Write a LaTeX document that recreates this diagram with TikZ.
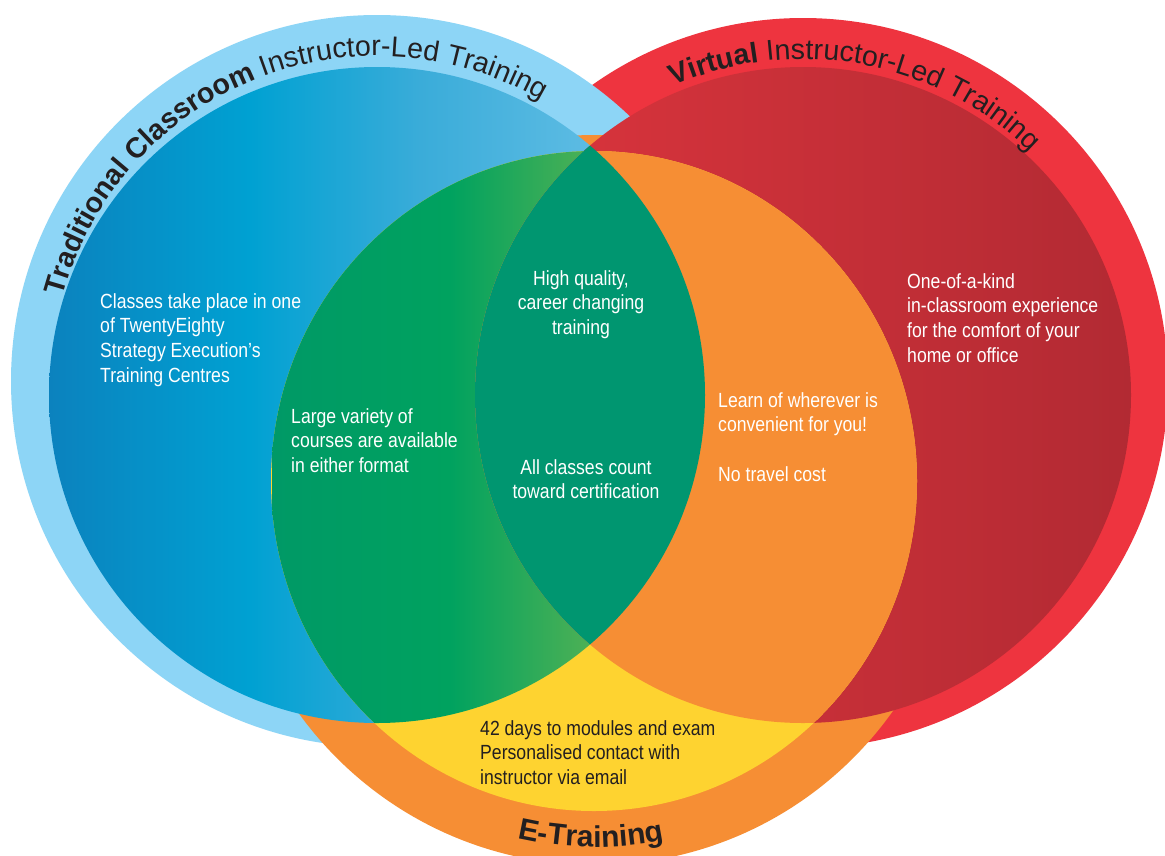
\documentclass[tikz,border=0pt]{standalone}
\usepackage{fontspec}
\setmainfont{Liberation Sans}
\newfontfamily\condfont[FakeStretch=0.86]{Liberation Sans}
\usetikzlibrary{decorations.text}
\definecolor{ringblue}{HTML}{8DD5F6}
\definecolor{ringred}{HTML}{EE343F}
\definecolor{ringorange}{HTML}{F68E34}
\definecolor{vennyellow}{HTML}{FED330}
\definecolor{venndkgreen}{HTML}{009670}
\definecolor{titlecol}{HTML}{231F20}
\definecolor{redL}{HTML}{DD353D}
\definecolor{redR}{HTML}{B22A33}
\definecolor{blueA}{HTML}{0B82BE}
\definecolor{blueB}{HTML}{00A1D2}
\definecolor{blueC}{HTML}{3AACD9}
\definecolor{blueD}{HTML}{74C6EA}
\definecolor{greenA}{HTML}{009966}
\definecolor{greenB}{HTML}{00A25F}
\definecolor{greenC}{HTML}{55B254}
\pgfdeclarehorizontalshading{blueshade}{100bp}{color(0bp)=(blueA); color(25bp)=(blueA); color(40.3bp)=(blueB); color(53.3bp)=(blueC); color(75bp)=(blueD); color(100bp)=(blueD)}
\pgfdeclarehorizontalshading{greenshade}{100bp}{color(0bp)=(greenA); color(25bp)=(greenA); color(51.7bp)=(greenB); color(75bp)=(greenC); color(100bp)=(greenC)}
\newcommand\bodyfont{\condfont\fontsize{20.5}{24.7}\selectfont}
\newcommand\titlefont{\fontsize{28.6}{32}\selectfont}
\newcommand\etfont{\fontsize{30}{34}\selectfont\bfseries}
\newcommand\leftlines[1]{\vtop{\halign{##\hfil\cr#1\crcr}}}
\newcommand\centerlines[1]{\vtop{\halign{\hfil##\hfil\cr#1\crcr}}}
\tikzset{
  bodytxt/.style={inner sep=0pt, text=white, font=\bodyfont},
  darktxt/.style={inner sep=0pt, text=titlecol, font=\bodyfont},
}
\begin{document}
\begin{tikzpicture}[x=1pt,y=1pt]
\useasboundingbox (0,-855) rectangle (1165,0);
\fill[white] (0,-855) rectangle (1165,0);
\clip (0,-855) rectangle (1165,0);
% centres
\coordinate (cAo) at (377,-381);
\coordinate (cBo) at (803,-383);
\coordinate (cCo) at (595,-500);
\coordinate (cA) at (377,-395);
\coordinate (cB) at (803,-395);
\coordinate (cC) at (594,-481);
% outer rings
\fill[ringred] (cBo) circle[radius=365];
\fill[ringblue] (cAo) circle[radius=366];
\fill[ringorange] (cCo) circle[radius=365];
% inner circles
\shade[shading=blueshade] (cA) circle[radius=328];
\shade[left color=redL, right color=redR] (cB) circle[radius=328];
\fill[vennyellow] (cC) ellipse[x radius=323, y radius=330];
\begin{scope}
  \clip (cA) circle[radius=328];
  \clip (cC) ellipse[x radius=323, y radius=330];
  \shade[shading=greenshade] (272,-140) rectangle (605,-740);
\end{scope}
\begin{scope}
  \clip (cB) circle[radius=328];
  \fill[ringorange] (cC) ellipse[x radius=323, y radius=330];
\end{scope}
\begin{scope}
  \clip (cA) circle[radius=328];
  \fill[venndkgreen] (cB) circle[radius=328];
\end{scope}
% curved titles
\path[decorate, decoration={text along path, text align=left, text color=titlecol,
  text={|\titlefont\bfseries|Traditional Classroom |\titlefont\mdseries|Instructor-Led Training}}]
  (cAo) ++(165:325) arc[start angle=165, end angle=30, radius=325];
\path[decorate, decoration={text along path, text align=left, text color=titlecol,
  text={|\titlefont\bfseries|Virtual |\titlefont\mdseries|Instructor-Led Training}}]
  (cBo) ++(113.5:324) arc[start angle=113.5, end angle=0, radius=324];
\path[decorate, decoration={text along path, text align=center, text color=titlecol,
  text={|\etfont|E-Training}}]
  (cCo) ++(230:347) arc[start angle=230, end angle=308.6, radius=347];
% texts
\node[bodytxt, anchor=base west] (tClass) at (100,-308)
  {\leftlines{Classes take place in one\cr of TwentyEighty\cr Strategy Execution’s\cr Training Centres}};
\node[bodytxt, anchor=base west] (tLarge) at (291,-423)
  {\leftlines{Large variety of\cr courses are available\cr in either format}};
\node[bodytxt, anchor=base] (tHigh) at (581,-285)
  {\centerlines{High quality,\cr career changing\cr training}};
\node[bodytxt, anchor=base] (tAll) at (586,-474)
  {\centerlines{All classes count\cr toward certification}};
\node[bodytxt, anchor=base west] (tLearn) at (718,-407)
  {\leftlines{Learn of wherever is\cr convenient for you!\cr\relax\cr No travel cost}};
\node[bodytxt, anchor=base west] (tOne) at (907,-288)
  {\leftlines{One-of-a-kind\cr in-classroom experience\cr for the comfort of your\cr home or office}};
\node[darktxt, anchor=base west] (tDays) at (480,-735)
  {\leftlines{42 days to modules and exam\cr Personalised contact with\cr instructor via email}};
\end{tikzpicture}
\end{document}
